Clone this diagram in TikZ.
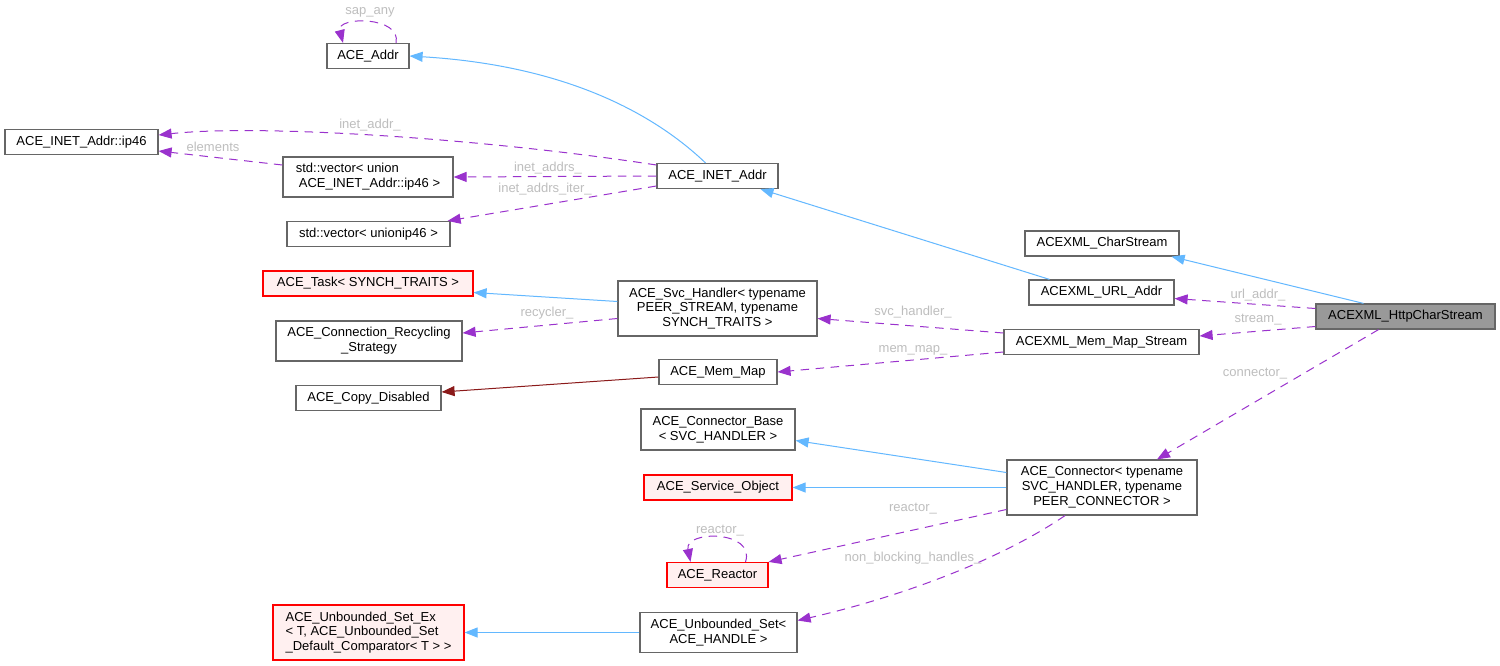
\documentclass[tikz,border=0pt]{standalone}
\usepackage{fontspec}
\setmainfont{Liberation Sans}
\usetikzlibrary{arrows.meta,calc}
\definecolor{edgeblue}{HTML}{63B8FF}
\definecolor{edgepurple}{HTML}{9A32CD}
\definecolor{edgered}{HTML}{8B1A1A}
\definecolor{boxgray}{HTML}{666666}
\definecolor{boxred}{HTML}{FF0000}
\definecolor{boxpink}{HTML}{FFF0F0}
\definecolor{boxfill}{HTML}{999999}
\definecolor{lblgray}{HTML}{BEBEBE}

\begin{document}
\begin{tikzpicture}[x=1pt,y=-1pt,line width=1pt,
    cls/.style={draw=boxgray,fill=white,line width=1.2pt,inner sep=0pt,minimum height=25pt,align=center,font=\fontsize{13}{14.8}\selectfont},
    tpl/.style={cls,draw=boxred,fill=boxpink},
    inh/.style={edgeblue,-{Triangle[length=13pt,width=10pt]}},
    priv/.style={edgered,-{Triangle[length=13pt,width=10pt]}},
    dep/.style={edgepurple,dash pattern=on 8.5pt off 6.5pt,-{Triangle[length=13pt,width=10pt]}},
    lbl/.style={text=lblgray,font=\fontsize{13}{14}\selectfont,inner sep=0pt}]
    \useasboundingbox[fill=white](0,0)rectangle(1500,665);

    \node[cls,minimum width=82pt](addr)at(368,56){ACE\_Addr};
    \node[cls,minimum width=153pt](ip46)at(81.5,142){ACE\_INET\_Addr::ip46};
    \node[cls,minimum width=170pt,minimum height=40pt,align=left](vecu)at(368,177){std::vector< union\\\hspace*{3pt}ACE\_INET\_Addr::ip46 >};
    \node[cls,minimum width=163pt](vecp)at(368.5,234){std::vector< unionip46 >};
    \node[cls,minimum width=121pt](inet)at(717.5,176){ACE\_INET\_Addr};
    \node[tpl,minimum width=210pt](task)at(368,283.5){ACE\_Task< SYNCH\_TRAITS >};
    \node[cls,minimum width=186pt,minimum height=40pt](recyc)at(369,341){ACE\_Connection\_Recycling\\\_Strategy};
    \node[cls,minimum width=145pt](copy)at(368.5,398){ACE\_Copy\_Disabled};
    \node[cls,minimum width=199pt,minimum height=55pt](svc)at(717.5,308.5){ACE\_Svc\_Handler< typename\\PEER\_STREAM, typename\\SYNCH\_TRAITS >};
    \node[cls,minimum width=118pt](mmap)at(718,372){ACE\_Mem\_Map};
    \node[cls,minimum width=154pt](cstream)at(1102,243.5){ACEXML\_CharStream};
    \node[cls,minimum width=145pt](url)at(1101.5,292.5){ACEXML\_URL\_Addr};
    \node[cls,minimum width=195pt](mms)at(1101.5,342){ACEXML\_Mem\_Map\_Stream};
    \node[cls,fill=boxfill,minimum width=179pt](http)at(1405.5,316.5){ACEXML\_HttpCharStream};
    \node[cls,minimum width=154pt,minimum height=41pt](cbase)at(718,429.5){ACE\_Connector\_Base\\< SVC\_HANDLER >};
    \node[tpl,minimum width=148pt](svcobj)at(718,487.5){ACE\_Service\_Object};
    \node[tpl,minimum width=101pt](reactor)at(717.5,575){ACE\_Reactor};
    \node[cls,minimum width=190pt,minimum height=55pt](conn)at(1102,487.5){ACE\_Connector< typename\\SVC\_HANDLER, typename\\PEER\_CONNECTOR >};
    \node[tpl,minimum width=191pt,minimum height=55pt,align=left](usetex)at(368.5,632.5){ACE\_Unbounded\_Set\_Ex\\< T, ACE\_Unbounded\_Set\\\_Default\_Comparator< T > >};
    \node[cls,minimum width=157pt,minimum height=40pt](uset)at(718.5,632.5){ACE\_Unbounded\_Set<\\ACE\_HANDLE >};

    \draw[inh]($(inet.north)+(-12,0)$)..controls(650,110)and(560,65)..(addr.east);
    \draw[dep]($(addr.north)+(28,0)$)..controls(402,16)and(336,16)..($(addr.north)+(-25,0)$);
    \draw[dep]($(inet.west)+(0,-11)$)..controls(480,138)and(260,124)..($(ip46.east)+(0,-7)$);
    \draw[dep]($(vecu.west)+(0,-12)$)--($(ip46.east)+(0,9)$);
    \draw[dep](inet.west)--(vecu.east);
    \draw[dep]($(inet.west)+(0,10)$)--($(vecp.north east)+(-3,0)$);
    \draw[inh]($(url.north)+(-52,0)$)--($(inet.south)+(43,0)$);
    \draw[inh]($(svc.west)+(0,-7)$)--($(task.east)+(0,9)$);
    \draw[dep]($(svc.west)+(0,10)$)--($(recyc.east)+(0,-8)$);
    \draw[priv]($(mmap.west)+(0,5)$)--($(copy.east)+(0,-6)$);
    \draw[dep]($(mms.west)+(0,-9)$)--($(svc.east)+(0,10)$);
    \draw[dep]($(mms.west)+(0,10)$)--(mmap.east);
    \draw[inh]($(http.north)+(-42,0)$)--($(cstream.south east)+(-8,0)$);
    \draw[dep]($(http.west)+(0,-8)$)--($(url.east)+(0,6)$);
    \draw[dep]($(http.west)+(0,10)$)--($(mms.east)+(0,-6)$);
    \draw[dep]($(http.south)+(-27,0)$)--($(conn.north)+(55,0)$);
    \draw[inh]($(conn.west)+(0,-15)$)--($(cbase.east)+(0,11)$);
    \draw[inh](conn.west)--(svcobj.east);
    \draw[dep]($(conn.west)+(0,22)$)--(reactor.north east);
    \draw[dep]($(reactor.north)+(28,0)$)..controls(756,530)and(684,530)..($(reactor.north)+(-27,0)$);
    \draw[dep]($(conn.south)+(-37,0)$)..controls(1000,560)and(900,597)..($(uset.east)+(0,-12)$);
    \draw[inh](uset.west)--(usetex.east);

    \node[lbl](lsap)at(370,12){sap\_any};
    \node[lbl](linaddr)at(370,125){inet\_addr\_};
    \node[lbl](lelem)at(213,147){elements};
    \node[lbl](linaddrs)at(548,168){inet\_addrs\_};
    \node[lbl](liter)at(545,189){inet\_addrs\_iter\_};
    \node[lbl](lrecyc)at(547,313){recycler\_};
    \node[lbl](lsvch)at(913,312){svc\_handler\_};
    \node[lbl](lmmap)at(913,350){mem\_map\_};
    \node[lbl](lurl)at(1258,295){url\_addr\_};
    \node[lbl](lstream)at(1258,320){stream\_};
    \node[lbl](lconn)at(1255,374){connector\_};
    \node[lbl](lreact)at(913,509){reactor\_};
    \node[lbl](lreact2)at(720,531){reactor\_};
    \node[lbl](lnbh)at(913,558){non\_blocking\_handles\_};
\end{tikzpicture}
\end{document}
